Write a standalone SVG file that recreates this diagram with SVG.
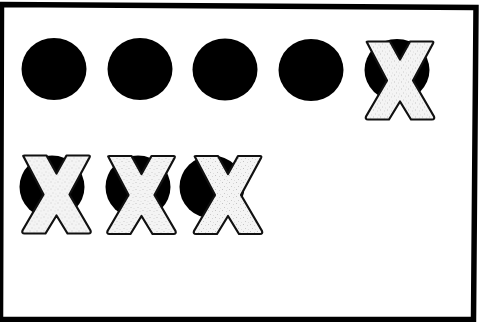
<svg xmlns="http://www.w3.org/2000/svg" width="479" height="322" viewBox="0 0 479 322">
  <defs>
    <pattern id="speckle" width="7" height="7" patternUnits="userSpaceOnUse">
      <rect width="7" height="7" fill="#f4f4f4"/>
      <rect x="1" y="1" width="1" height="1" fill="#c4c4c4"/>
      <rect x="5" y="2" width="1" height="1" fill="#d6d6d6"/>
      <rect x="3" y="5" width="1" height="1" fill="#cbcbcb"/>
      <rect x="6" y="6" width="1" height="1" fill="#dedede"/>
    </pattern>
    <path id="xshape" d="M-33,-38 Q-34,-39 -32,-39 L-10,-39 L0,-21 L10,-39 L32,-39 Q34,-39 33,-37 L13,0 L34,36 Q35,39 32,39 L11,39 L0,21 L-11,39 L-32,39 Q-35,39 -34,36 L-13,0 Z"/>
  </defs>
  <style>
    .frame { fill: none; stroke: #000; stroke-width: 5.5; stroke-linejoin: miter; }
    .dot { fill: #000; }
    .cross { fill: url(#speckle); stroke: #111; stroke-width: 2.2; stroke-linejoin: round; }
  </style>
  <rect width="479" height="322" fill="#fff"/>
  <polygon class="frame" points="1.5,4.5 476,7.5 473.5,319.5 0.5,319.5"/>

  <g id="dot1"><ellipse class="dot" cx="54" cy="69" rx="32.5" ry="31"/></g>
  <g id="dot2"><ellipse class="dot" cx="140" cy="69" rx="32.5" ry="31"/></g>
  <g id="dot3"><ellipse class="dot" cx="225" cy="69.5" rx="32.5" ry="31"/></g>
  <g id="dot4"><ellipse class="dot" cx="311" cy="70" rx="32.5" ry="31"/></g>
  <g id="dot5">
    <ellipse class="dot" cx="397" cy="70" rx="32.5" ry="31"/>
    <use href="#xshape" class="cross" transform="translate(400,80.5)"/>
  </g>
  <g id="dot6">
    <ellipse class="dot" cx="52" cy="187" rx="32.5" ry="31.5"/>
    <use href="#xshape" class="cross" transform="translate(56.5,194.5)"/>
  </g>
  <g id="dot7">
    <ellipse class="dot" cx="138" cy="187" rx="32.5" ry="31.5"/>
    <use href="#xshape" class="cross" transform="translate(141.5,195)"/>
  </g>
  <g id="dot8">
    <ellipse class="dot" cx="212" cy="187" rx="32.5" ry="31.5"/>
    <use href="#xshape" class="cross" transform="translate(228,195)"/>
  </g>
</svg>
